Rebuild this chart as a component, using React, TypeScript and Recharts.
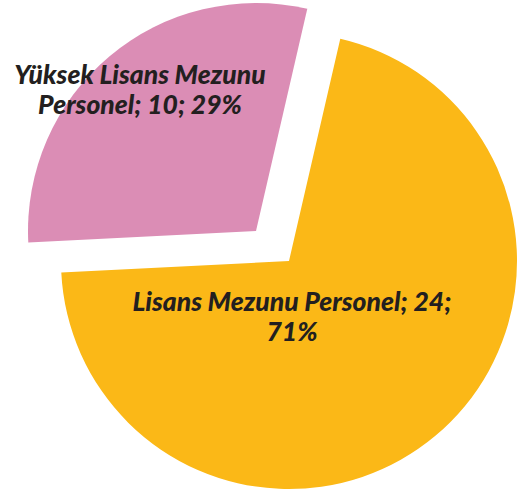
import { PieChart, Pie, Cell } from "recharts"

// Staff by education level (count, share)
const categories = ["Lisans Mezunu Personel", "Yüksek Lisans Mezunu Personel"]
const counts = [24, 10]
const percentLabels = ["71%", "29%"]
const labelLines = [
  ["Lisans Mezunu Personel; 24;", "71%"],
  ["Yüksek Lisans Mezunu", "Personel; 10; 29%"],
]
const colors = ["#FBB817", "#DB8DB5"]

const data = categories.map((name, i) => ({ name, value: counts[i], pct: percentLabels[i] }))

const W = 518
const H = 493
const CX = 289
const CY = 261
const R = 228
// exploded slice (pink) is pushed out along its bisector
const EXPLODE = { dx: -33, dy: -30 }
const START = 77

// label anchor relative to the slice vertex
const LABEL_OFFSET = [
  { dx: 3, dy: 50 },
  { dx: -116, dy: -147 },
]

const makeLabel = (visibleIndex: number) => (props: any) => {
  const { index, cx, cy } = props
  if (index !== visibleIndex) return null
  const off = LABEL_OFFSET[index]
  const x = cx + off.dx
  const y = cy + off.dy
  return (
    <text
      key={`lbl-${index}`}
      x={x}
      y={y}
      textAnchor="middle"
      fill="#231F20"
      fontFamily="Lato, 'Open Sans', sans-serif"
      fontWeight={900}
      fontStyle="italic"
      fontSize={26.5}
    >
      {labelLines[index].map((line, j) => (
        <tspan key={j} x={x} dy={j === 0 ? 0 : 30}>
          {line}
        </tspan>
      ))}
    </text>
  )
}

export default function App() {
  return (
    <div style={{ position: "absolute", left: 0, top: 0, width: W, height: H, background: "#fff" }}>
      <PieChart width={W} height={H} margin={{ top: 0, right: 0, bottom: 0, left: 0 }}>
        <Pie
          data={data}
          dataKey="value"
          cx={CX}
          cy={CY}
          outerRadius={R}
          startAngle={START}
          endAngle={START - 360}
          stroke="none"
          labelLine={false}
          label={makeLabel(0)}
          isAnimationActive={false}
        >
          {data.map((d, i) => (
            <Cell key={d.name} fill={i === 0 ? colors[0] : "transparent"} />
          ))}
        </Pie>
        <Pie
          data={data}
          dataKey="value"
          cx={CX + EXPLODE.dx}
          cy={CY + EXPLODE.dy}
          outerRadius={R}
          startAngle={START}
          endAngle={START - 360}
          stroke="none"
          labelLine={false}
          label={makeLabel(1)}
          isAnimationActive={false}
        >
          {data.map((d, i) => (
            <Cell key={d.name} fill={i === 1 ? colors[1] : "transparent"} />
          ))}
        </Pie>
      </PieChart>
    </div>
  )
}
